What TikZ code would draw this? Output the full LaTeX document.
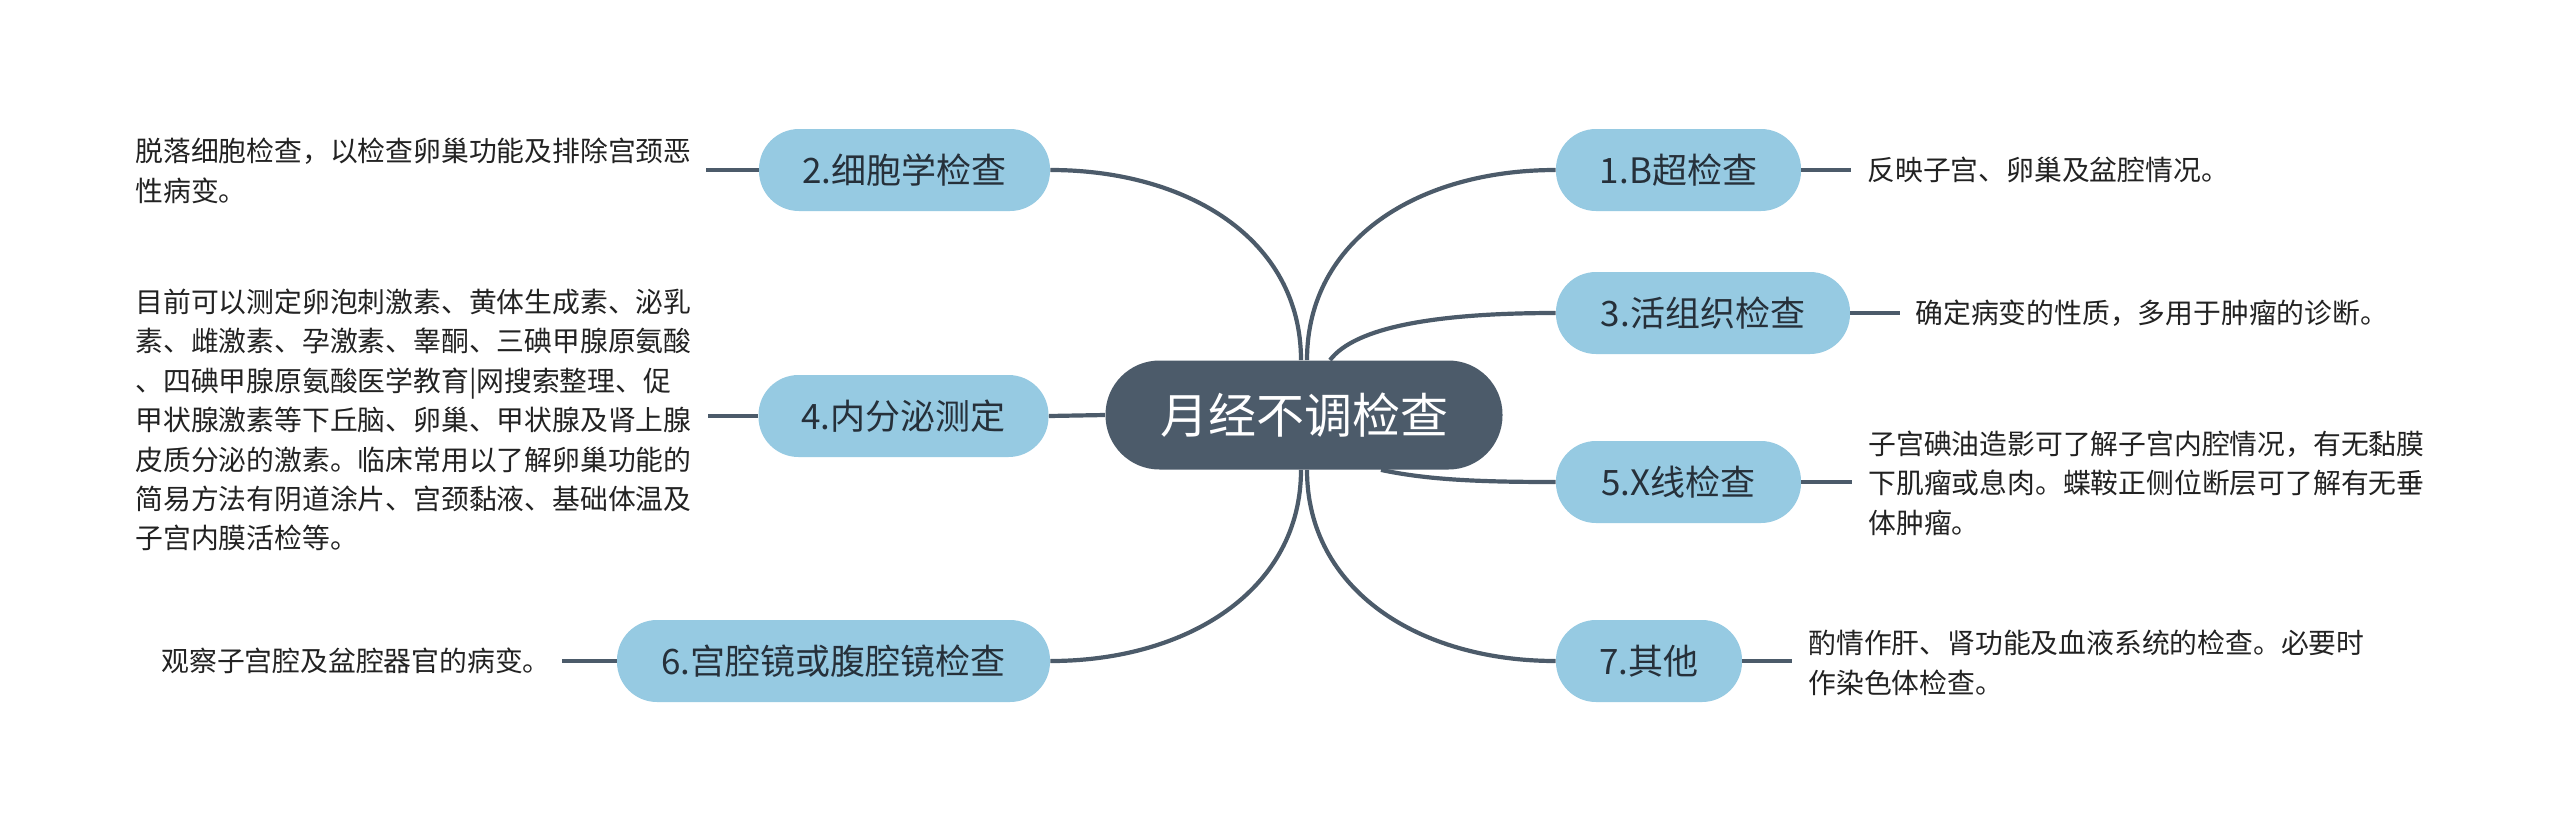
\documentclass[tikz,border=0pt]{standalone}
\usepackage{fontspec}
\setmainfont{Noto Sans CJK SC}
\usetikzlibrary{calc}
\definecolor{nodeblue}{RGB}{150,202,226}
\definecolor{hubfill}{RGB}{76,91,106}
\definecolor{wire}{RGB}{76,91,106}
\definecolor{labtext}{RGB}{38,48,58}
\definecolor{desctext}{RGB}{34,34,34}
\begin{document}
\begin{tikzpicture}[x=0.5pt,y=-0.5pt,
  hubnode/.style={fill=hubfill, text=white, rounded corners=27pt, minimum width=198.5pt, minimum height=54.5pt, inner sep=0pt, font=\fontsize{24}{28}\selectfont},
  topic/.style={fill=nodeblue, text=labtext, rounded corners=20pt, minimum height=41pt, inner sep=0pt, font=\fontsize{17.5}{21}\selectfont},
  desc/.style={text=desctext, inner sep=0pt, align=left, anchor=west, font=\fontsize{13.9}{19.7}\selectfont},
  wireline/.style={draw=wire, line width=2.1pt}
]
\useasboundingbox (0,0) rectangle (2560,831);
\fill[white] (0,0) rectangle (2560,831);

% nodes
\node[hubnode] (c) at (1304,415) {月经不调检查};
\node[topic, minimum width=122.5pt] (n1) at (1678.5,170) {1.B超检查};
\node[topic, minimum width=147pt]   (n3) at (1703,313) {3.活组织检查};
\node[topic, minimum width=122.5pt] (n5) at (1678.5,482) {5.X线检查};
\node[topic, minimum width=93pt]    (n7) at (1649,661) {7.其他};
\node[topic, minimum width=145.5pt] (n2) at (904.5,170) {2.细胞学检查};
\node[topic, minimum width=145pt]   (n4) at (903.5,416) {4.内分泌测定};
\node[topic, minimum width=216.5pt] (n6) at (833.5,661) {6.宫腔镜或腹腔镜检查};

% descriptions
\node[desc] (d1) at (1867,170) {反映子宫、卵巢及盆腔情况。};
\node[desc] (d3) at (1915,313) {确定病变的性质，多用于肿瘤的诊断。};
\node[desc] (d5) at (1868,483) {子宫碘油造影可了解子宫内腔情况，有无黏膜\\下肌瘤或息肉。蝶鞍正侧位断层可了解有无垂\\体肿瘤。};
\node[desc] (d7) at (1808,663) {酌情作肝、肾功能及血液系统的检查。必要时\\作染色体检查。};
\node[desc] (d2) at (135,171) {脱落细胞检查，以检查卵巢功能及排除宫颈恶\\性病变。};
\node[desc] (d4) at (135,420) {目前可以测定卵泡刺激素、黄体生成素、泌乳\\素、雌激素、孕激素、睾酮、三碘甲腺原氨酸\\、四碘甲腺原氨酸医学教育|网搜索整理、促\\甲状腺激素等下丘脑、卵巢、甲状腺及肾上腺\\皮质分泌的激素。临床常用以了解卵巢功能的\\简易方法有阴道涂片、宫颈黏液、基础体温及\\子宫内膜活检等。};
\node[desc] (d6) at (161,661) {观察子宫腔及盆腔器官的病变。};

% free ends of the short connectors
\coordinate (e1) at (1851,170);
\coordinate (e3) at (1900,313);
\coordinate (e5) at (1852,482);
\coordinate (e7) at (1792,661);
\coordinate (e2) at (706,170);
\coordinate (e4) at (708,416);
\coordinate (e6) at (562,661);

% main connectors
\draw[wireline] ($(c.north)+(3,0)$) .. controls +(0,-121) and +(-137,0) .. (n1.west);
\draw[wireline] ($(c.north)+(-3,0)$) .. controls +(0,-121) and +(137,0) .. (n2.east);
\draw[wireline] ($(c.north)+(26,0)$) .. controls +(25,-33) and +(-120,0) .. (n3.west);
\draw[wireline] (c.west) -- (n4.east);
\draw[wireline] ($(c.south)+(77,0)$) .. controls +(47,10) and +(-76,0) .. (n5.west);
\draw[wireline] ($(c.south)+(-3,0)$) .. controls +(0,120) and +(137,0) .. (n6.east);
\draw[wireline] ($(c.south)+(3,0)$) .. controls +(0,120) and +(-137,0) .. (n7.west);

% short connectors to descriptions
\draw[wireline] (n1.east) -- (e1);
\draw[wireline] (n3.east) -- (e3);
\draw[wireline] (n5.east) -- (e5);
\draw[wireline] (n7.east) -- (e7);
\draw[wireline] (n2.west) -- (e2);
\draw[wireline] (n4.west) -- (e4);
\draw[wireline] (n6.west) -- (e6);
\end{tikzpicture}
\end{document}
